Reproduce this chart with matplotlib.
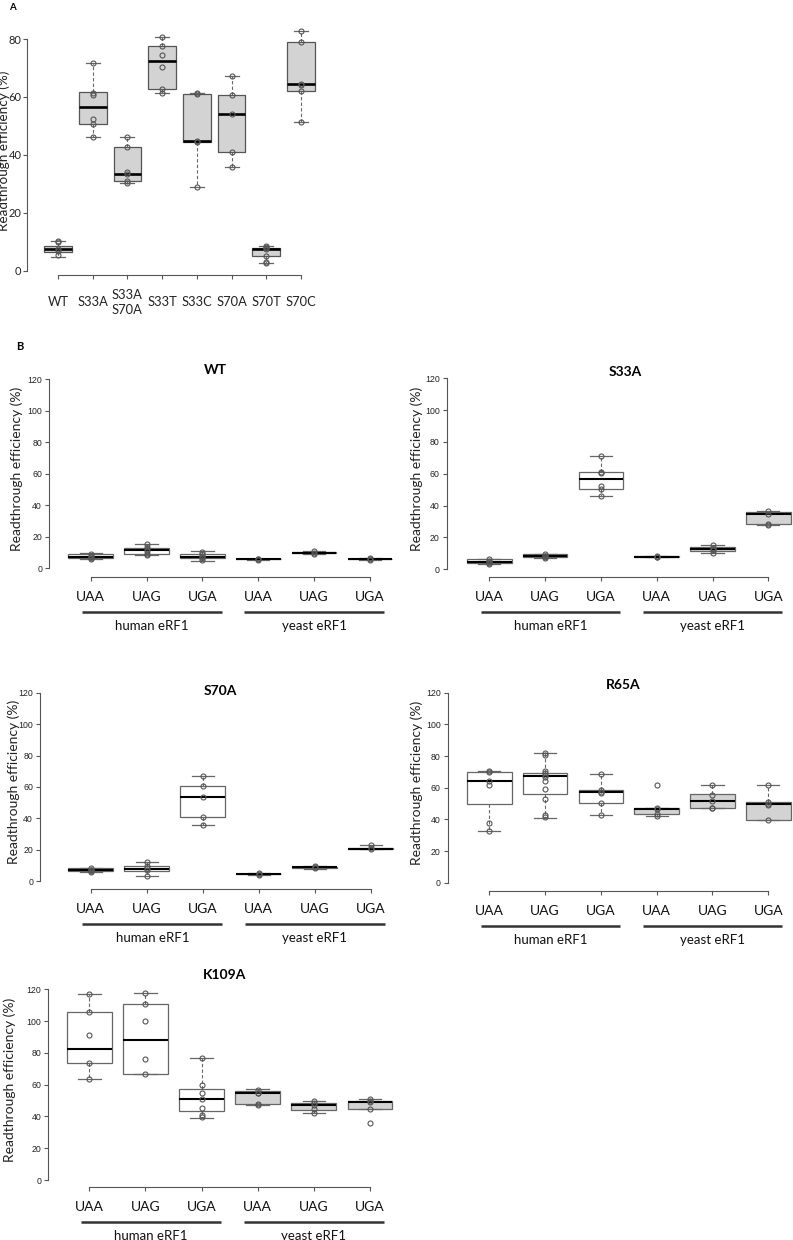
import matplotlib
matplotlib.use("Agg")
import matplotlib.pyplot as plt
from matplotlib.transforms import offset_copy

W, H = 793, 1240
DPI = 100

# ---------------- panel A data ----------------
mutants = ["WT", "S33A", "S33A\nS70A", "S33T", "S33C", "S70A", "S70T", "S70C"]
a_yticks = [0, 20, 40, 60, 80]
# (lower whisker, Q1, median, Q3, upper whisker)
a_stats = [
    (4.9, 6.4, 7.4, 8.7, 10.4),
    (46.3, 50.8, 56.5, 61.6, 71.6),
    (30.3, 30.8, 33.5, 42.6, 46.2),
    (61.2, 62.8, 72.5, 77.6, 80.8),
    (28.9, 44.6, 44.7, 60.9, 61.5),
    (35.9, 41.0, 54.0, 60.5, 67.1),
    (2.5, 5.2, 7.4, 7.9, 8.6),
    (51.2, 62.2, 64.6, 78.8, 82.6),
]
a_points = [
    [10.4, 9.9, 7.6, 6.8, 5.3],
    [71.6, 61.3, 60.5, 52.5, 50.8, 46.3],
    [46.2, 42.6, 34.0, 33.5, 31.0, 30.3],
    [80.8, 77.6, 74.5, 70.3, 62.8, 61.2],
    [61.5, 61.0, 44.7, 44.5, 28.9],
    [67.1, 60.5, 54.0, 41.0, 35.9],
    [8.6, 8.2, 7.8, 7.4, 5.2, 3.0, 2.5],
    [82.6, 78.8, 64.6, 64.0, 62.2, 51.2],
]

# ---------------- panel B data ----------------
codons = ["UAA", "UAG", "UGA", "UAA", "UAG", "UGA"]
factors = ["human eRF1", "yeast eRF1"]
b_yticks = [0, 20, 40, 60, 80, 100, 120]

wt_stats = [
    (5.7, 6.3, 7.4, 8.8, 9.5),
    (8.5, 9.3, 11.6, 13.2, 15.7),
    (4.9, 6.4, 7.4, 9.2, 10.8),
    (5.5, 5.6, 5.7, 5.8, 6.0),
    (9.0, 9.5, 10.0, 10.4, 10.8),
    (5.5, 5.6, 5.8, 6.0, 6.3),
]
wt_points = [
    [9.2, 7.7, 7.2, 6.3, 5.9],
    [15.7, 13.3, 12.2, 10.8, 9.3, 8.5],
    [10.5, 9.2, 7.5, 7.2, 6.4, 5.0],
    [6.0, 5.7, 5.5],
    [10.8, 10.0, 9.2],
    [6.3, 5.8, 5.5],
]

s33a_stats = [
    (3.6, 4.2, 4.4, 6.3, 6.5),
    (7.4, 7.8, 8.4, 9.4, 9.8),
    (46.3, 50.7, 56.8, 61.4, 71.4),
    (7.5, 7.8, 8.0, 8.2, 8.5),
    (10.5, 11.7, 12.8, 13.8, 15.1),
    (28.0, 28.5, 34.8, 36.2, 36.6),
]
s33a_points = [
    [6.5, 5.5, 4.4, 4.2, 3.6],
    [9.8, 8.5, 8.2, 7.8, 7.4],
    [71.4, 61.0, 60.8, 52.5, 50.7, 46.3],
    [8.5, 8.0, 7.5],
    [15.0, 13.5, 12.8, 12.0, 10.5],
    [36.6, 35.0, 28.5, 28.0],
]

s70a_stats = [
    (6.0, 6.8, 7.1, 8.3, 8.5),
    (3.4, 6.8, 8.1, 9.8, 12.1),
    (36.0, 41.1, 53.8, 60.8, 67.2),
    (4.0, 4.5, 4.7, 4.9, 5.0),
    (8.0, 8.6, 8.9, 9.3, 10.0),
    (20.5, 20.6, 20.8, 21.0, 23.0),
]
s70a_points = [
    [8.5, 7.4, 7.1, 6.3, 6.0],
    [12.1, 9.6, 8.3, 7.5, 3.4],
    [67.2, 60.8, 53.8, 41.1, 36.0],
    [5.0, 4.6, 4.0],
    [10.0, 9.0, 8.2],
    [23.0, 21.0, 20.5],
]

r65a_stats = [
    (32.6, 49.7, 64.0, 70.1, 70.8),
    (41.0, 56.0, 67.4, 69.5, 81.7),
    (42.9, 50.1, 57.3, 58.5, 68.6),
    (41.9, 43.4, 46.7, 47.4, 47.4),
    (47.0, 47.2, 51.4, 55.8, 61.9),
    (39.6, 39.6, 49.5, 50.8, 61.5),
]
r65a_points = [
    [70.8, 70.0, 64.5, 61.5, 38.0, 32.6],
    [81.7, 80.5, 70.5, 69.0, 67.8, 67.0, 64.0, 59.0, 53.0, 43.0, 41.2],
    [68.6, 58.5, 57.5, 56.5, 50.3, 42.9],
    [61.9, 47.4, 46.8, 43.5, 42.0],
    [61.9, 55.6, 51.4, 47.2, 47.0],
    [61.5, 50.8, 49.5, 49.0, 39.6],
]

k109a_stats = [
    (63.6, 73.8, 82.5, 106.0, 117.3),
    (66.7, 66.7, 88.3, 110.5, 117.5),
    (39.2, 43.4, 50.8, 57.3, 76.6),
    (47.5, 48.0, 54.5, 56.2, 57.0),
    (42.0, 44.3, 47.0, 48.7, 49.7),
    (44.5, 44.5, 48.9, 49.7, 51.0),
]
k109a_points = [
    [117.3, 106.0, 91.0, 73.8, 63.6],
    [117.5, 110.5, 100.3, 76.0, 66.7],
    [76.6, 60.0, 55.0, 50.8, 45.5, 41.0, 39.5],
    [56.5, 55.0, 54.5, 48.0, 47.5],
    [49.7, 48.5, 47.0, 44.5, 42.0],
    [51.0, 50.0, 48.9, 44.5, 35.7],
]

LATO = ["Lato", "DejaVu Sans"]
ARIAL = ["Liberation Sans", "DejaVu Sans"]
AXCOL = "#555555"

fig = plt.figure(figsize=(W / DPI, H / DPI), dpi=DPI)


def place_axes(yaxis_px, p1_px, pn_px, n, y0_px, ytick_px, ytick_val, xaxis_px, ymax):
    # axes rectangle from pixel positions
    sp = (pn_px - p1_px) / (n - 1)
    ext = (p1_px - yaxis_px) / sp
    ppu = (y0_px - ytick_px) / ytick_val
    ymin = -(xaxis_px - y0_px) / ppu
    top_px = y0_px - ymax * ppu
    right_px = pn_px + (p1_px - yaxis_px)
    ax = fig.add_axes([yaxis_px / W, 1 - xaxis_px / H,
                       (right_px - yaxis_px) / W, (xaxis_px - top_px) / H])
    for s in ["top", "right"]:
        ax.spines[s].set_visible(False)
    for s in ["left", "bottom"]:
        ax.spines[s].set_color(AXCOL)
        ax.spines[s].set_linewidth(0.8)
    return ax, (1 - ext, n + ext), (ymin, ymax)


def draw_boxes(ax, stats, points, fills, box_ec, med_lw):
    bstats = []
    for lo, q1, med, q3, hi in stats:
        bstats.append({"whislo": lo, "q1": q1, "med": med, "q3": q3,
                       "whishi": hi, "fliers": []})
    pos = list(range(1, len(stats) + 1))
    res = ax.bxp(bstats, positions=pos, widths=0.8, patch_artist=True,
                 showfliers=False, capwidths=0.4, manage_ticks=False,
                 boxprops=dict(edgecolor=box_ec, linewidth=0.9),
                 whiskerprops=dict(color="#666666", linewidth=0.8, linestyle=(0, (3, 2))),
                 capprops=dict(color="#666666", linewidth=0.9),
                 medianprops=dict(color="black", linewidth=med_lw, solid_capstyle="butt"))
    for patch, fc in zip(res["boxes"], fills):
        patch.set_facecolor(fc)
    for x, pts in zip(pos, points):
        ax.plot([x] * len(pts), pts, "o", mfc="none", mec="#555555", ms=3.6,
                mew=0.8, clip_on=False, zorder=4)


def finish_axes(ax, xlim, ylim, n, yticks, yfont, yfs, ypad):
    ax.set_xlim(*xlim)
    ax.set_ylim(*ylim)
    ax.spines["bottom"].set_bounds(1, n)
    ax.spines["left"].set_bounds(yticks[0], yticks[-1])
    ax.set_xticks(range(1, n + 1))
    ax.set_xticklabels([])
    ax.set_yticks(yticks)
    ax.set_yticklabels([str(t) for t in yticks], family=yfont, fontsize=yfs,
                       color="#222222")
    ax.tick_params(colors=AXCOL, length=3, width=0.8, direction="out")
    ax.tick_params(axis="y", pad=ypad, labelcolor="#222222")


# ---------------- panel A ----------------
axA, xlimA, ylimA = place_axes(27, 58, 301, 8, 270.7, 39, 80, 275.3, 86)
draw_boxes(axA, a_stats, a_points, ["#d3d3d3"] * 8, "#555555", 1.9)
finish_axes(axA, xlimA, ylimA, 8, a_yticks, LATO, 8, 1)
trA = offset_copy(axA.get_xaxis_transform(), fig=fig, y=-27, units="dots")
for i, name in enumerate(mutants):
    axA.text(i + 1, 0, name, transform=trA, ha="center", va="center",
             family=LATO, fontsize=9.3, color="#222222", linespacing=1.25)
fig.text(4.2 / W, 1 - 150.7 / H, "Readthrough efficiency (%)", rotation=90,
         ha="center", va="center", family=LATO, fontsize=9.7, color="#222222")
fig.text(12 / W, 1 - 7 / H, "A", ha="center", va="center", fontsize=7,
         fontweight="bold", family=LATO)
fig.text(20 / W, 1 - 347 / H, "B", ha="center", va="center", fontsize=8,
         fontweight="bold", family=LATO)

# ---------------- panel B ----------------
b_fills = ["white"] * 3 + ["#d3d3d3"] * 3
panels = [
    ("WT", wt_stats, wt_points, (49, 90.7, 370, 568.3, 379.3, 576.7), 17, 215, 370),
    ("S33A", s33a_stats, s33a_points, (446.7, 489.3, 768.3, 569.3, 378.3, 577.3), 417, 625, 372),
    ("S70A", s70a_stats, s70a_points, (40, 90.7, 370.7, 881.3, 692.7, 889.3), 14, 220, 691),
    ("R65A", r65a_stats, r65a_points, (447.7, 489.3, 768.3, 882.7, 692.7, 890.7), 417, 623, 685),
    ("K109A", k109a_stats, k109a_points, (48.3, 89.3, 370, 1180, 989.3, 1186.7), 10, 225, 975),
]

for title, stats, pts, geo, ylab_x, title_x, title_y in panels:
    yaxis, p1, p6, y0, y120, xaxis = geo
    ppu = (y0 - y120) / 120
    ymax = 120 + (xaxis - y0) / ppu
    ax, xlim, ylim = place_axes(yaxis, p1, p6, 6, y0, y120, 120, xaxis, ymax)
    draw_boxes(ax, stats, pts, b_fills, "#666666", 1.5)
    finish_axes(ax, xlim, ylim, 6, b_yticks, ARIAL, 6.3, 2)

    tr_lab = offset_copy(ax.get_xaxis_transform(), fig=fig, y=-20, units="dots")
    for i, c in enumerate(codons):
        ax.text(i + 1, 0, c, transform=tr_lab, ha="center", va="center",
                family=LATO, fontsize=10, color="#111111")
    tr_line = offset_copy(ax.get_xaxis_transform(), fig=fig, y=-35, units="dots")
    ax.plot([0.85, 3.35], [0, 0], color="#333333", lw=1.8, transform=tr_line,
            clip_on=False, solid_capstyle="butt")
    ax.plot([3.75, 6.25], [0, 0], color="#333333", lw=1.8, transform=tr_line,
            clip_on=False, solid_capstyle="butt")
    tr_grp = offset_copy(ax.get_xaxis_transform(), fig=fig, y=-49, units="dots")
    ax.text(2.1, 0, factors[0], transform=tr_grp, ha="center", va="center",
            family=LATO, fontsize=9.5, color="#111111")
    ax.text(5.0, 0, factors[1], transform=tr_grp, ha="center", va="center",
            family=LATO, fontsize=9.5, color="#111111")

    fig.text(title_x / W, 1 - title_y / H, title, ha="center", va="center",
             family=LATO, fontsize=10, fontweight="bold")
    fig.text(ylab_x / W, 1 - ((y0 + y120) / 2 - 5) / H, "Readthrough efficiency (%)",
             rotation=90, ha="center", va="center", family=LATO, fontsize=10,
             color="#222222")

fig.savefig("out.png", dpi=DPI)
